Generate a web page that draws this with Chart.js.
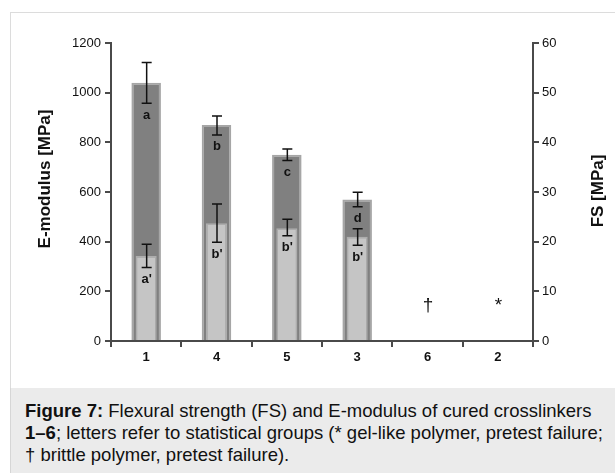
<!DOCTYPE html>
<html>
<head>
<meta charset="utf-8">
<script src="https://cdn.jsdelivr.net/npm/chart.js@4"></script>
<style>
  html, body { margin: 0; padding: 0; background: #fff; }
  body { width: 615px; height: 473px; position: relative; overflow: hidden; font-family: 'Liberation Sans', Arial, sans-serif; }
  #frame { position: absolute; left: 10px; top: 12px; width: 605px; height: 376px; border-top: 1px solid #dcdcdc; border-left: 1px solid #dcdcdc; box-sizing: border-box; }
  #wrap { position: absolute; left: 0; top: 0; width: 615px; height: 388px; }
  #caption { position: absolute; left: 10px; top: 388px; width: 605px; height: 85px; background: #ebebeb; border-left: 1px solid #d6d6d6; box-sizing: border-box; padding: 12px 0 0 14px; font-size: 18.5px; line-height: 22px; color: #111; white-space: nowrap; }
</style>
</head>
<body>
<div id="frame"></div>
<div id="wrap"><canvas id="fsChart" width="615" height="388"></canvas></div>
<div id="caption"><b>Figure 7:</b> Flexural strength (FS) and E-modulus of cured crosslinkers<br><b>1–6</b>; letters refer to statistical groups (* gel-like polymer, pretest failure;<br>† brittle polymer, pretest failure).</div>
<script>
// crosslinkers in plotted order
const categories = ['1', '4', '5', '3', '6', '2'];

// E-modulus [MPa], left axis
const eModulus = [1040, 870, 750, 570, null, null];
const eModulusLow = [957, 830, 727, 541, null, null];
const eModulusHigh = [1121, 906, 773, 599, null, null];
const eGroups = ['a', 'b', 'c', 'd', '', ''];

// flexural strength [MPa], right axis
const flexStrength = [17.1, 23.7, 22.7, 21.0, null, null];
const flexLow = [14.8, 19.9, 21.2, 19.3, null, null];
const flexHigh = [19.5, 27.6, 24.5, 22.6, null, null];
const fsGroups = ["a'", "b'", "b'", "b'", '', ''];

// pretest failures
const failureMarks = ['', '', '', '', '†', '*'];
const failureMarkLevel = 7;

const FONT = "'Liberation Sans', Arial, sans-serif";
const AXIS = '#4a4a4a';

const errorBars = {
    id: 'errorBars',
    afterDatasetsDraw(chart) {
        const ctx = chart.ctx;
        const x = chart.scales.x;
        const y = chart.scales.y;
        const y1 = chart.scales.y1;
        ctx.save();
        ctx.strokeStyle = '#111';
        ctx.lineWidth = 1.5;
        ctx.fillStyle = '#111';
        ctx.font = 'bold 13px ' + FONT;
        ctx.textAlign = 'center';
        ctx.textBaseline = 'middle';
        const drawBar = (cx, top, bottom) => {
            ctx.beginPath();
            ctx.moveTo(cx, top); ctx.lineTo(cx, bottom);
            ctx.moveTo(cx - 5, top); ctx.lineTo(cx + 5, top);
            ctx.moveTo(cx - 5, bottom); ctx.lineTo(cx + 5, bottom);
            ctx.stroke();
        };
        categories.forEach((c, i) => {
            const cx = x.getPixelForValue(i) + 0.5;
            if (eModulus[i] != null) {
                const lo = y.getPixelForValue(eModulusLow[i]);
                drawBar(cx, y.getPixelForValue(eModulusHigh[i]), lo);
                ctx.fillText(eGroups[i], cx, lo + 12);
            }
            if (flexStrength[i] != null) {
                const lo = y1.getPixelForValue(flexLow[i]);
                drawBar(cx, y1.getPixelForValue(flexHigh[i]), lo);
                ctx.fillText(fsGroups[i], cx, lo + 12);
            }
            if (failureMarks[i]) {
                ctx.font = '19px ' + FONT;
                ctx.fillText(failureMarks[i], cx, y1.getPixelForValue(failureMarkLevel));
                ctx.font = 'bold 13px ' + FONT;
            }
        });
        ctx.restore();
    },
    afterDraw(chart) {
        // axis titles, both reading bottom to top
        const ctx = chart.ctx;
        ctx.save();
        ctx.fillStyle = '#111';
        ctx.font = 'bold 17px ' + FONT;
        ctx.textAlign = 'center';
        ctx.textBaseline = 'middle';
        [['E-modulus [MPa]', 45, 179], ['FS [MPa]', 598, 191]].forEach(([t, tx, ty]) => {
            ctx.save();
            ctx.translate(tx, ty);
            ctx.rotate(-Math.PI / 2);
            ctx.fillText(t, 0, 0);
            ctx.restore();
        });
        ctx.restore();
    }
};

const plainTick = v => String(v);

new Chart(document.getElementById('fsChart'), {
    type: 'bar',
    data: {
        labels: categories,
        datasets: [{
            label: 'FS',
            data: flexStrength,
            yAxisID: 'y1',
            backgroundColor: '#c5c5c5',
            borderColor: '#adadad',
            borderWidth: 1.5,
            barPercentage: 0.3,
            categoryPercentage: 1,
            grouped: false,
            order: 0
        }, {
            label: 'E-modulus',
            data: eModulus,
            yAxisID: 'y',
            backgroundColor: '#808080',
            borderColor: '#a6a6a6',
            borderWidth: 2,
            barPercentage: 0.42,
            categoryPercentage: 1,
            grouped: false,
            order: 1
        }]
    },
    options: {
        responsive: false,
        animation: false,
        layout: { padding: { top: 43, left: 0, right: 0, bottom: 0 } },
        plugins: {
            legend: { display: false },
            tooltip: { enabled: false }
        },
        scales: {
            x: {
                afterFit: s => { s.height = 47; },
                grid: { drawOnChartArea: false, color: AXIS, lineWidth: 2, tickLength: 6 },
                border: { color: AXIS, width: 2 },
                ticks: { color: '#111', padding: 3, font: { family: FONT, size: 13, weight: 'bold' } }
            },
            y: {
                position: 'left',
                min: 0, max: 1200,
                afterFit: s => { s.width = 111; },
                grid: { drawOnChartArea: false, color: AXIS, lineWidth: 2, tickLength: 6 },
                border: { color: AXIS, width: 2 },
                ticks: { stepSize: 200, color: '#111', padding: 4, callback: plainTick, font: { family: FONT, size: 13 } }
            },
            y1: {
                position: 'right',
                min: 0, max: 60,
                afterFit: s => { s.width = 82; },
                grid: { drawOnChartArea: false, color: AXIS, lineWidth: 2, tickLength: 6 },
                border: { color: AXIS, width: 2 },
                ticks: { stepSize: 10, color: '#111', padding: 3, callback: plainTick, font: { family: FONT, size: 13 } }
            }
        }
    },
    plugins: [errorBars]
});
</script>
</body>
</html>
